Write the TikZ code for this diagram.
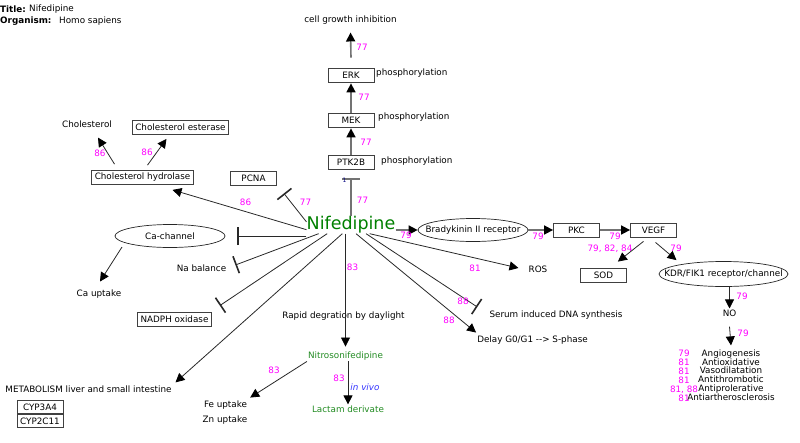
\documentclass[tikz,border=0pt]{standalone}
\usepackage{fontspec}
\setmainfont{DejaVu Sans}
\usetikzlibrary{positioning,arrows.meta,shapes.geometric}

\definecolor{refpink}{RGB}{255,0,255}
\definecolor{drug}{RGB}{0,128,0}
\definecolor{metabgreen}{RGB}{34,139,34}
\definecolor{edgegray}{RGB}{40,40,40}
\newcommand{\flatlabel}[1]{\makebox[0pt]{#1}}

\begin{document}
\begin{tikzpicture}[x=1pt,y=-1pt,
  font=\fontsize{8.8}{9}\selectfont,
  every node/.style={inner sep=1pt},
  gene/.style={draw=black!75,line width=0.8pt,minimum width=46pt,minimum height=14pt,inner xsep=3pt},
  comp/.style={draw=black!85,ellipse,line width=0.7pt,inner sep=0pt},
  ref/.style={text=refpink},
  act/.style={draw=edgegray,line width=0.8pt,-{Triangle[length=9pt,width=9pt,color=black]}},
  inh/.style={draw=edgegray,line width=0.8pt,-{Bar[width=18pt,line width=1.6pt]}},
  kin/.style={draw=black!55,line width=1.6pt,-{Triangle[length=9pt,width=9pt,color=black]}}]
  \useasboundingbox (0,0) rectangle (800,442);

  \node[anchor=west] (ttl) at (-1,9) {\textbf{Title:}};
  \node[anchor=west] (ttlv) at (28,9) {Nifedipine};
  \node[anchor=west] (org) at (-1,21) {\textbf{Organism:}};
  \node[anchor=west] (orgv) at (58,21) {Homo sapiens};

  \node (cgi) at (350.5,20) {cell growth inhibition};
  \node[gene] (erk) at (351,75) {ERK};
  \node[gene] (mek) at (351,120) {MEK};
  \node[gene] (ptk) at (351,162) {PTK2B};
  \node[anchor=west] (erkp) at (375,73) {phosphorylation};
  \node[anchor=west] (mekp) at (377,117) {phosphorylation};
  \node[anchor=west] (ptkp) at (380,161) {phosphorylation};
  \node[text=drug,font=\fontsize{17.5}{18}\selectfont,inner sep=0pt] (nif) at (351,225) {Nifedipine};

  \node (chol) at (87,124) {Cholesterol};
  \node[gene] (chole) at (180.5,127.5) {Cholesterol esterase};
  \node[gene] (cholh) at (142.5,177.5) {Cholesterol hydrolase};
  \node[gene] (pcna) at (253.5,178) {PCNA};
  \node[comp,minimum width=110pt,minimum height=23pt] (cach) at (170,236) {\flatlabel{Ca-channel}};
  \node (caup) at (99,294) {Ca uptake};
  \node (nab) at (201.5,268) {Na balance};
  \node[gene] (nadph) at (174.5,319) {NADPH oxidase};
  \node (metab) at (88.5,389) {METABOLISM liver and small intestine};
  \node[gene,minimum height=13pt] (cyp1) at (40,407) {CYP3A4};
  \node[gene,minimum height=13pt,below=0pt of cyp1] (cyp2) {CYP2C11};

  \node (rapid) at (343.5,316) {Rapid degration by daylight};
  \node[text=metabgreen] (nitro) at (345.5,356) {Nitrosonifedipine};
  \node[text=metabgreen] (lact) at (348,409) {Lactam derivate};
  \node[text=blue!80,font=\fontsize{8.8}{9}\selectfont\itshape] (vivo) at (365,387) {in vivo};
  \node (fe) at (225.5,405) {Fe uptake};
  \node (zn) at (225,420) {Zn uptake};

  \node (delay) at (532.5,340) {Delay G0/G1 {-}{-}> S-phase};
  \node (serum) at (556,315) {Serum induced DNA synthesis};
  \node (ros) at (538,269) {ROS};
  \node[comp,minimum width=110pt,minimum height=23pt] (brad) at (473,230) {\flatlabel{Bradykinin II receptor}};
  \node[gene] (pkc) at (576.5,230) {PKC};
  \node[gene] (vegf) at (653.5,230) {VEGF};
  \node[gene] (sod) at (603.5,275) {SOD};
  \node[comp,minimum width=129pt,minimum height=25pt] (kdr) at (723.5,274) {\flatlabel{KDR/FIK1 receptor/channel}};
  \node (no) at (729.5,313) {NO};
  \node[align=center,font=\fontsize{8.8}{8.8}\selectfont] (eff) at (731,375) {Angiogenesis\\Antioxidative\\Vasodilatation\\Antithrombotic\\Antiprolerative\\Antiartherosclerosis};
  \node[ref,align=center,font=\fontsize{8.8}{9}\selectfont] (effref) at (684,375.5) {79\\81\\81\\81\\81, 88\\81};

  \draw[kin] ([yshift=10pt]erk.north) -- ([yshift=-7pt]cgi.south);
  \draw[kin] (mek.north) -- ([yshift=-1pt]erk.south);
  \draw[kin] (ptk.north) -- ([yshift=-1pt]mek.south);
  \draw[inh,draw=black!55,line width=1.4pt] (nif.north) -- ([yshift=-9pt]ptk.south);
  \node[text=blue!50!black,font=\fontsize{6}{6}\selectfont] (one) at (344.5,180) {1};

  \draw[act] (nif.186) -- ([xshift=30pt,yshift=-5pt]cholh.south);
  \draw[act] ([xshift=-28pt,yshift=6pt]cholh.north) -- ([xshift=11pt,yshift=-9pt]chol.south);
  \draw[act] ([xshift=5pt,yshift=5pt]cholh.north) -- ([xshift=-14pt,yshift=-4pt]chole.south);
  \draw[inh] (nif.176) -- ([xshift=7pt,yshift=-8pt]pcna.south east);
  \draw[inh] (nif.west |- cach) -- ([xshift=12pt]cach.east);
  \draw[act] ([xshift=-48pt,yshift=-11pt]cach.center) -- ([xshift=1pt,yshift=7pt]caup.north);
  \draw[inh] (nif.195) -- ([xshift=8pt,yshift=3pt]nab.east);
  \draw[inh] (nif.200) -- ([xshift=8pt,yshift=6pt]nadph.north east);
  \draw[act] (nif.225) -- ([xshift=87pt,yshift=2pt]metab.north);
  \draw[act] (nif.south -| nitro) -- ([yshift=4pt]nitro.north);
  \draw[act] (nitro.south west) -- ([xshift=2pt,yshift=2pt]fe.north east);
  \draw[act] (nitro.south -| lact) -- (lact.north);
  \draw[act] (nif.300) -- ([yshift=2pt]delay.north west);
  \draw[inh] (nif.330) -- ([xshift=-11pt,yshift=8pt]serum.west);
  \draw[act] (nif.335) -- ([xshift=-9pt,yshift=1pt]ros.west);
  \draw[kin] (nif.east |- brad) -- (brad);
  \draw[kin] (brad) -- (pkc);
  \draw[kin] (pkc) -- (vegf);
  \draw[act] ([xshift=-10pt,yshift=-4pt]vegf.south) -- ([xshift=-9pt,yshift=6pt]sod.north east);
  \draw[act] ([xshift=2pt,yshift=-5pt]vegf.south) -- ([xshift=-47pt,yshift=1pt]kdr.north);
  \draw[act] (kdr.south -| no) -- (no.north);
  \draw[act] ([yshift=-9pt]no.south) -- ([yshift=3pt]eff.north);

  \node[ref] (r-cgi) at (362,47) {77};
  \node[ref] (r-erk) at (364,97) {77};
  \node[ref] (r-mek) at (366,142) {77};
  \node[ref] (r-ptk) at (362.5,200) {77};
  \node[ref] (r-pcna) at (305.5,202) {77};
  \node[ref] (r-cholh) at (245.5,202) {86};
  \node[ref] (r-chol) at (100,153) {86};
  \node[ref] (r-chole) at (147,152) {86};
  \node[ref] (r-nitro) at (352.5,267) {83};
  \node[ref] (r-fe) at (274,370) {83};
  \node[ref] (r-lact) at (339,378) {83};
  \node[ref] (r-brad) at (406,235) {79};
  \node[ref] (r-pkc) at (538,236) {79};
  \node[ref] (r-vegf) at (615,236) {79};
  \node[ref] (r-sod) at (610,249) {79, 82, 84};
  \node[ref] (r-kdr) at (676,248) {79};
  \node[ref] (r-no) at (742,296) {79};
  \node[ref] (r-eff) at (743,333) {79};
  \node[ref] (r-ros) at (475,268) {81};
  \node[ref] (r-serum) at (463,301) {88};
  \node[ref] (r-delay) at (449,320) {88};
\end{tikzpicture}
\end{document}
